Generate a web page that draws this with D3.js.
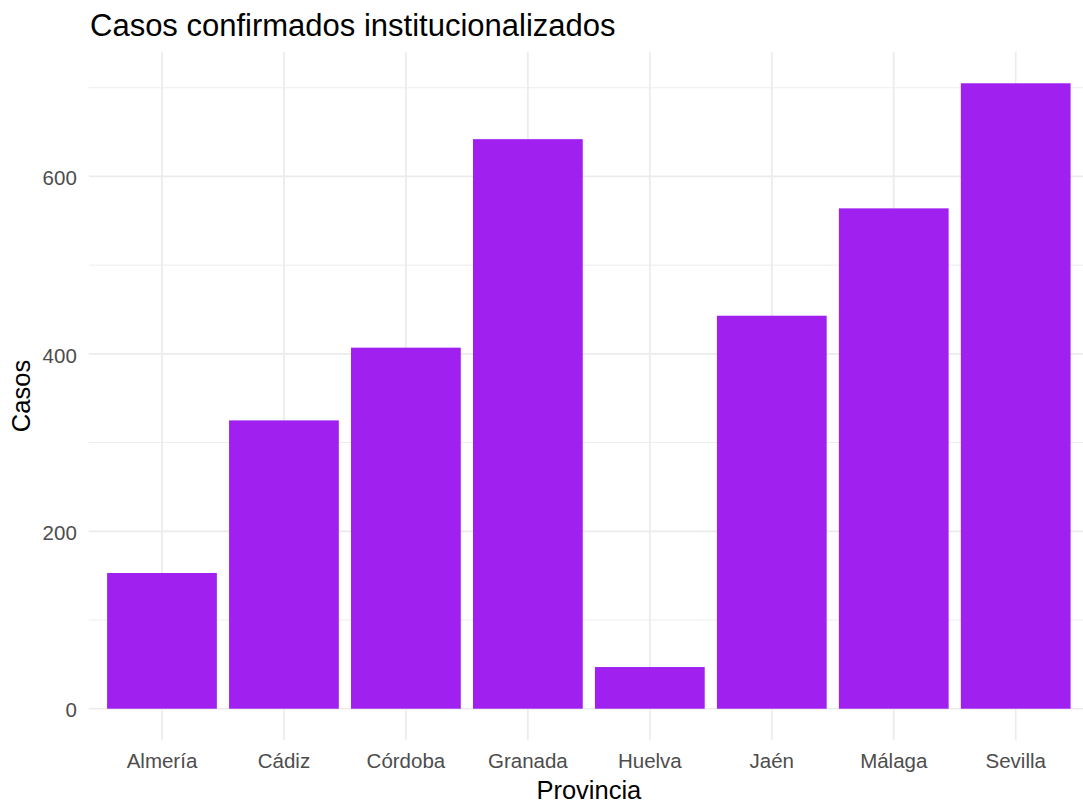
<!DOCTYPE html>
<html>
<head>
<meta charset="utf-8">
<script src="https://cdn.jsdelivr.net/npm/d3@7"></script>
<style>
  html, body { margin: 0; padding: 0; background: #fff; }
  svg { display: block; font-family: "Liberation Sans", Arial, sans-serif; }
</style>
</head>
<body>
<svg id="chart" width="1083" height="803"></svg>
<script>
const categories = ["Almería", "Cádiz", "Córdoba", "Granada", "Huelva", "Jaén", "Málaga", "Sevilla"];
const casos = [153, 325, 407, 642, 47, 443, 564, 705];
const majorTicks = [0, 200, 400, 600];
const minorTicks = [100, 300, 500, 700];
const titleText = "Casos confirmados institucionalizados";
const xTitle = "Provincia";
const yTitle = "Casos";

const svg = d3.select("#chart");
const panel = { left: 88.8, right: 1088.9, top: 52, bottom: 740 };

const maxV = d3.max(casos);
const x = d3.scaleBand()
  .domain(categories)
  .range([panel.left, panel.right])
  .paddingInner(0.1)
  .paddingOuter(0.15);

const y = d3.scaleLinear()
  .domain([-0.05 * maxV, maxV * 1.05])
  .range([panel.bottom, panel.top]);

const grid = svg.append("g");
grid.selectAll("line.minor").data(minorTicks).enter().append("line")
  .attr("x1", panel.left).attr("x2", panel.right)
  .attr("y1", d => y(d)).attr("y2", d => y(d))
  .attr("stroke", "#ebebeb").attr("stroke-width", 0.9);
grid.selectAll("line.major").data(majorTicks).enter().append("line")
  .attr("x1", panel.left).attr("x2", panel.right)
  .attr("y1", d => y(d)).attr("y2", d => y(d))
  .attr("stroke", "#ebebeb").attr("stroke-width", 1.7);
grid.selectAll("line.v").data(categories).enter().append("line")
  .attr("x1", d => x(d) + x.bandwidth() / 2).attr("x2", d => x(d) + x.bandwidth() / 2)
  .attr("y1", panel.top).attr("y2", panel.bottom)
  .attr("stroke", "#ebebeb").attr("stroke-width", 1.7);

svg.append("g").selectAll("rect").data(categories).enter().append("rect")
  .attr("x", d => x(d))
  .attr("width", x.bandwidth())
  .attr("y", (d, i) => y(casos[i]))
  .attr("height", (d, i) => y(0) - y(casos[i]))
  .attr("fill", "#A020F0");

const yAxis = d3.axisLeft(y).tickValues(majorTicks).tickSize(0).tickPadding(12);
const ya = svg.append("g").attr("transform", `translate(${panel.left},0)`).call(yAxis);
ya.select(".domain").remove();
ya.selectAll("text").attr("fill", "#4d4d4d").attr("dy", "0.4em").style("font-size", "20.5px")
  .style("font-family", "'Liberation Sans', Arial, sans-serif");

const xAxis = d3.axisBottom(x).tickSize(0).tickPadding(13);
const xa = svg.append("g").attr("transform", `translate(0,${panel.bottom})`).call(xAxis);
xa.select(".domain").remove();
xa.selectAll("text").attr("fill", "#4d4d4d").style("font-size", "20.5px")
  .style("font-family", "'Liberation Sans', Arial, sans-serif");

svg.append("text").attr("x", 90).attr("y", 36)
  .attr("fill", "#000").style("font-size", "31px").text(titleText);
svg.append("text").attr("x", (panel.left + panel.right) / 2).attr("y", 799)
  .attr("text-anchor", "middle").attr("fill", "#000").style("font-size", "25.5px").text(xTitle);
svg.append("text").attr("transform", `translate(30,${(panel.top + panel.bottom) / 2}) rotate(-90)`)
  .attr("text-anchor", "middle").attr("fill", "#000").style("font-size", "25.5px").text(yTitle);
</script>
</body>
</html>
